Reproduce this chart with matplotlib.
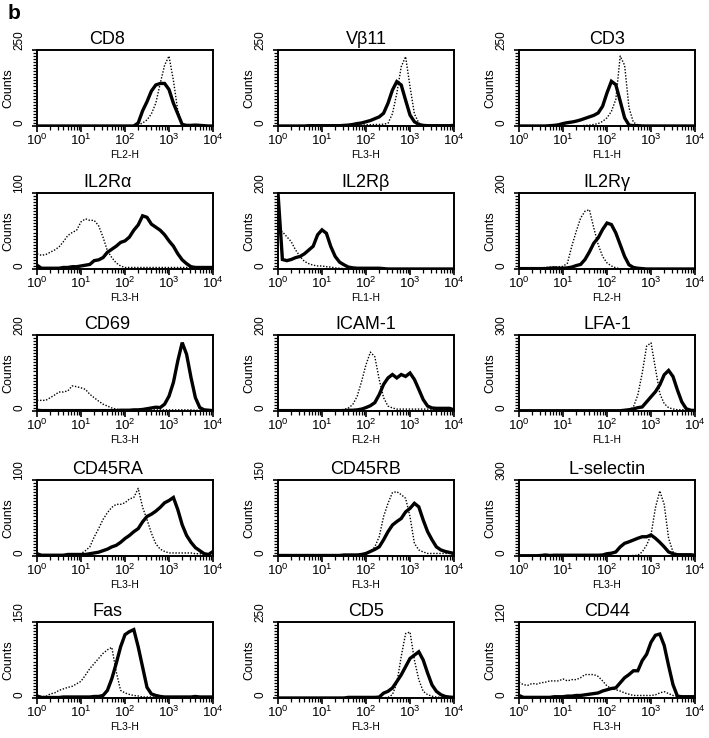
import matplotlib.pyplot as plt
import numpy as np
from matplotlib.ticker import MultipleLocator, LogLocator, NullFormatter

plt.rcParams['font.family'] = ['Liberation Sans', 'DejaVu Sans']
plt.rcParams['mathtext.fontset'] = 'custom'
plt.rcParams['mathtext.rm'] = 'Liberation Sans'
plt.rcParams['mathtext.it'] = 'Liberation Sans:italic'

# channel bins in decades, 10^0 .. 10^4 (0.1 decade steps)
log_fl = np.linspace(0, 4, 41)

# counts per bin (solid = thick line, dotted = control)
cd8_solid = [0, 0, 0, 0, 0, 0, 0, 0, 0, 0, 0,
             0, 0, 0, 0, 0, 0, 0, 0, 0, 0,
             0, 0, 10, 50, 80, 115, 135, 140, 140, 120,
             75, 40, 5, 2, 2, 3, 2, 1, 0, 0]
cd8_dotted = [0, 0, 0, 0, 0, 0, 0, 0, 0, 0, 0,
              0, 0, 0, 0, 0, 0, 0, 0, 0, 0,
              0, 0, 3, 10, 20, 40, 75, 140, 200, 230,
              150, 50, 8, 2, 0, 0, 0, 0, 0, 0]

vb11_solid = [0, 0, 0, 0, 0, 0, 0, 1, 1, 1, 1,
              1, 1, 1, 1, 2, 3, 5, 8, 10, 14,
              18, 24, 30, 42, 75, 118, 146, 135, 85, 36,
              14, 5, 2, 1, 1, 1, 1, 1, 1, 2]
vb11_dotted = [0, 0, 0, 0, 0, 0, 0, 0, 0, 0, 0,
               0, 0, 0, 0, 1, 2, 2, 3, 3, 4,
               4, 5, 5, 6, 9, 40, 107, 195, 228, 130,
               40, 10, 2, 1, 0, 0, 0, 0, 0, 0]

cd3_solid = [0, 0, 0, 0, 0, 0, 0, 1, 2, 4, 8,
             11, 13, 16, 20, 25, 30, 35, 43, 65, 109,
             147, 136, 82, 27, 3, 1, 1, 0, 0, 0,
             0, 0, 0, 0, 0, 0, 0, 0, 0, 0]
cd3_dotted = [0, 0, 0, 0, 0, 0, 0, 0, 0, 0, 0,
              0, 0, 0, 1, 2, 3, 5, 8, 15, 27,
              48, 87, 230, 200, 60, 12, 4, 2, 1, 0,
              0, 0, 0, 0, 0, 0, 0, 0, 0, 0]

il2ra_solid = [5, 1, 1, 1, 1, 1, 2, 2, 3, 3, 4,
               5, 6, 11, 12, 15, 22, 26, 30, 35, 37,
               42, 51, 58, 70, 68, 59, 55, 51, 45, 37,
               30, 20, 12, 7, 3, 2, 2, 2, 2, 2]
il2ra_dotted = [20, 18, 19, 22, 25, 29, 36, 44, 48, 51, 62,
                66, 64, 64, 57, 42, 24, 15, 8, 4, 2,
                2, 2, 2, 2, 2, 2, 2, 2, 2, 2,
                2, 2, 2, 2, 2, 2, 2, 2, 2, 2]

il2rb_solid = [200, 25, 22, 25, 30, 33, 40, 50, 60, 90, 103,
               94, 59, 33, 18, 11, 5, 3, 2, 2, 2,
               2, 2, 2, 1, 0, 0, 0, 0, 0, 0,
               0, 0, 0, 0, 0, 0, 0, 0, 0, 0]
il2rb_dotted = [100, 98, 85, 72, 50, 33, 20, 14, 10, 8, 8,
                6, 5, 3, 2, 1, 1, 1, 1, 1, 1,
                1, 1, 1, 1, 0, 0, 0, 0, 0, 0,
                0, 0, 0, 0, 0, 0, 0, 0, 0, 0]

il2rg_solid = [1, 1, 1, 1, 1, 1, 1, 2, 3, 2, 2,
               3, 5, 9, 12, 25, 45, 68, 82, 104, 121,
               117, 95, 64, 33, 11, 4, 2, 1, 0, 0,
               0, 0, 0, 0, 0, 0, 0, 0, 0, 0]
il2rg_dotted = [0, 0, 0, 0, 1, 3, 4, 5, 5, 6, 7,
                15, 60, 99, 134, 152, 156, 108, 64, 33, 16,
                8, 3, 1, 0, 0, 0, 0, 0, 0, 0,
                0, 0, 0, 0, 0, 0, 0, 0, 0, 0]

cd69_solid = [2, 1, 1, 1, 1, 1, 1, 1, 1, 1, 1,
              1, 1, 1, 1, 1, 1, 1, 1, 2, 2,
              2, 3, 3, 4, 6, 8, 10, 9, 18, 39,
              75, 132, 180, 149, 88, 35, 9, 3, 2, 1]
cd69_dotted = [28, 28, 28, 35, 42, 50, 50, 53, 66, 64, 61,
               57, 44, 35, 26, 18, 13, 8, 5, 3, 3,
               3, 3, 3, 3, 3, 3, 3, 3, 3, 3,
               3, 3, 3, 3, 3, 2, 2, 2, 1, 1]

icam1_solid = [1, 1, 1, 1, 1, 1, 1, 1, 1, 1, 1,
               1, 1, 1, 1, 1, 2, 2, 3, 5, 9,
               14, 22, 43, 70, 87, 96, 87, 96, 91, 100,
               83, 57, 30, 13, 8, 7, 7, 7, 7, 3]
icam1_dotted = [0, 0, 0, 0, 0, 0, 0, 0, 0, 0, 2,
                2, 2, 2, 3, 4, 8, 17, 39, 78, 122,
                155, 143, 83, 35, 13, 8, 5, 5, 5, 5,
                5, 5, 5, 5, 5, 3, 2, 2, 1, 1]

lfa1_solid = [1, 1, 1, 1, 1, 1, 1, 1, 1, 1, 1,
              1, 1, 1, 1, 1, 1, 1, 1, 1, 1,
              1, 1, 1, 3, 5, 8, 13, 16, 36, 56,
              76, 103, 143, 160, 136, 83, 36, 9, 3, 2]
lfa1_dotted = [0, 0, 0, 0, 0, 0, 0, 0, 0, 0, 0,
               0, 0, 0, 0, 0, 0, 0, 0, 0, 0,
               0, 0, 0, 1, 2, 16, 63, 149, 256, 269,
               169, 69, 29, 13, 8, 5, 5, 5, 3, 2]

cd45ra_solid = [3, 1, 1, 1, 1, 1, 1, 2, 2, 2, 2,
                2, 3, 4, 5, 7, 9, 12, 14, 18, 23,
                27, 32, 36, 45, 52, 55, 59, 64, 70, 73,
                77, 61, 41, 27, 18, 11, 7, 3, 2, 6]
cd45ra_dotted = [1, 1, 1, 1, 1, 1, 1, 1, 1, 2, 3,
                 7, 12, 25, 36, 48, 57, 64, 68, 68, 70,
                 75, 77, 89, 64, 48, 30, 16, 9, 6, 4,
                 4, 4, 4, 4, 4, 3, 3, 2, 2, 1]

cd45rb_solid = [1, 1, 1, 1, 1, 1, 1, 1, 1, 1, 1,
                1, 1, 1, 1, 2, 2, 2, 2, 3, 5,
                9, 13, 18, 32, 48, 61, 68, 74, 87, 94,
                104, 97, 71, 48, 32, 18, 12, 9, 7, 5]
cd45rb_dotted = [0, 0, 0, 0, 0, 0, 0, 0, 0, 0, 0,
                 0, 0, 0, 0, 1, 1, 1, 1, 2, 5,
                 8, 18, 38, 78, 104, 125, 127, 121, 114, 78,
                 25, 12, 8, 5, 5, 5, 5, 5, 5, 3]

lsel_solid = [1, 1, 1, 1, 1, 2, 4, 2, 3, 3, 3,
              3, 3, 3, 3, 3, 3, 3, 3, 4, 9,
              11, 16, 36, 50, 56, 63, 70, 76, 76, 83,
              70, 54, 36, 16, 9, 5, 5, 5, 5, 3]
lsel_dotted = [1, 1, 1, 1, 1, 1, 1, 1, 1, 1, 1,
               1, 1, 1, 1, 1, 1, 1, 1, 1, 1,
               1, 1, 1, 1, 1, 2, 3, 16, 43, 83,
               190, 257, 203, 70, 16, 5, 3, 3, 3, 3]

fas_solid = [4, 1, 1, 1, 1, 1, 2, 2, 2, 2, 2,
             2, 2, 3, 3, 5, 15, 38, 68, 101, 125,
             131, 135, 101, 61, 21, 8, 5, 3, 2, 2,
             2, 2, 2, 2, 2, 3, 2, 2, 2, 2]
fas_dotted = [5, 3, 3, 8, 10, 15, 18, 21, 23, 28, 33,
              45, 58, 68, 78, 88, 95, 100, 52, 15, 10,
              7, 5, 4, 2, 2, 2, 2, 2, 2, 2,
              1, 1, 1, 1, 1, 1, 1, 1, 1, 1]

cd5_solid = [0, 0, 0, 0, 0, 0, 0, 0, 0, 0, 0,
             0, 0, 0, 0, 0, 2, 2, 2, 2, 2,
             2, 2, 3, 16, 22, 33, 54, 76, 103, 130,
             141, 152, 125, 82, 43, 22, 11, 5, 3, 2]
cd5_dotted = [0, 0, 0, 0, 0, 0, 0, 0, 0, 0, 0,
              0, 0, 0, 0, 0, 0, 0, 0, 0, 0,
              0, 0, 1, 1, 2, 11, 49, 136, 212, 217,
              125, 60, 22, 11, 6, 3, 2, 2, 2, 2]

cd44_solid = [4, 1, 1, 1, 1, 1, 1, 1, 2, 2, 2,
              3, 3, 4, 4, 5, 6, 7, 8, 11, 13,
              15, 16, 24, 32, 37, 43, 43, 59, 69, 88,
              99, 101, 83, 51, 21, 3, 2, 2, 2, 2]
cd44_dotted = [25, 21, 20, 23, 22, 24, 25, 27, 27, 27, 30,
               27, 29, 29, 32, 37, 37, 37, 34, 27, 19,
               15, 13, 11, 8, 6, 4, 4, 4, 4, 4,
               5, 8, 10, 7, 4, 3, 3, 3, 3, 4]

titles = ['CD8', 'V\u03b211', 'CD3',
          'IL2R\u03b1', 'IL2R\u03b2', 'IL2R\u03b3',
          'CD69', 'ICAM-1', 'LFA-1',
          'CD45RA', 'CD45RB', 'L-selectin',
          'Fas', 'CD5', 'CD44']
channels = ['FL2-H', 'FL3-H', 'FL1-H',
            'FL3-H', 'FL1-H', 'FL2-H',
            'FL3-H', 'FL2-H', 'FL1-H',
            'FL3-H', 'FL3-H', 'FL3-H',
            'FL3-H', 'FL3-H', 'FL3-H']
count_max = [250, 250, 250,
             100, 200, 200,
             200, 200, 300,
             100, 150, 300,
             150, 250, 120]
solids = [cd8_solid, vb11_solid, cd3_solid, il2ra_solid, il2rb_solid, il2rg_solid,
          cd69_solid, icam1_solid, lfa1_solid, cd45ra_solid, cd45rb_solid, lsel_solid,
          fas_solid, cd5_solid, cd44_solid]
dotteds = [cd8_dotted, vb11_dotted, cd3_dotted, il2ra_dotted, il2rb_dotted, il2rg_dotted,
           cd69_dotted, icam1_dotted, lfa1_dotted, cd45ra_dotted, cd45rb_dotted, lsel_dotted,
           fas_dotted, cd5_dotted, cd44_dotted]

W, H = 709, 738
fig = plt.figure(figsize=(W / 100, H / 100), dpi=100)
fig.text(8 / W, 1 - 4 / H, 'b', fontsize=15, fontweight='bold', ha='left', va='top')

col_left = [37, 278, 519]
row_top = [50, 193, 335, 480, 622]
box_w, box_h = 176, 76

fl = 10 ** log_fl
for i in range(15):
    r, c = divmod(i, 3)
    ax = fig.add_axes([col_left[c] / W, 1 - (row_top[r] + box_h) / H, box_w / W, box_h / H])
    ax.plot(fl, dotteds[i], color='black', lw=1.0, ls=(0, (1, 1.2)))
    ax.plot(fl, solids[i], color='black', lw=2.4, solid_joinstyle='miter')
    ax.set_xscale('log')
    ax.set_xlim(1, 1e4)
    ax.set_ylim(0, count_max[i])
    ax.xaxis.set_major_locator(LogLocator(base=10, numticks=6))
    ax.xaxis.set_minor_locator(LogLocator(base=10, subs=np.arange(2, 10), numticks=20))
    ax.xaxis.set_minor_formatter(NullFormatter())
    ax.set_yticks([0, count_max[i]])
    ax.yaxis.set_minor_locator(MultipleLocator(count_max[i] / 25))
    ax.tick_params(axis='x', which='major', direction='out', length=4, width=1.2, pad=1, labelsize=9.5)
    ax.tick_params(axis='x', which='minor', direction='out', length=2.6, width=0.9)
    ax.tick_params(axis='y', which='major', direction='out', length=3.5, width=1.2, pad=5,
                   labelsize=8.5, labelrotation=90)
    ax.tick_params(axis='y', which='minor', direction='out', length=2.6, width=0.9)
    for lab in ax.get_yticklabels():
        lab.set_va('bottom')
    for sp in ax.spines.values():
        sp.set_linewidth(1.4)
    ax.set_ylabel('Counts', fontsize=9)
    ax.yaxis.set_label_coords(-0.13, 0.5)
    ax.set_xlabel(channels[i], fontsize=7.5, labelpad=1)
    tx = 0.4 if c == 0 else 0.5
    ax.text(tx, 1.03, titles[i], transform=ax.transAxes, fontsize=13,
            ha='center', va='bottom')

fig.savefig('out.png', dpi=100)
